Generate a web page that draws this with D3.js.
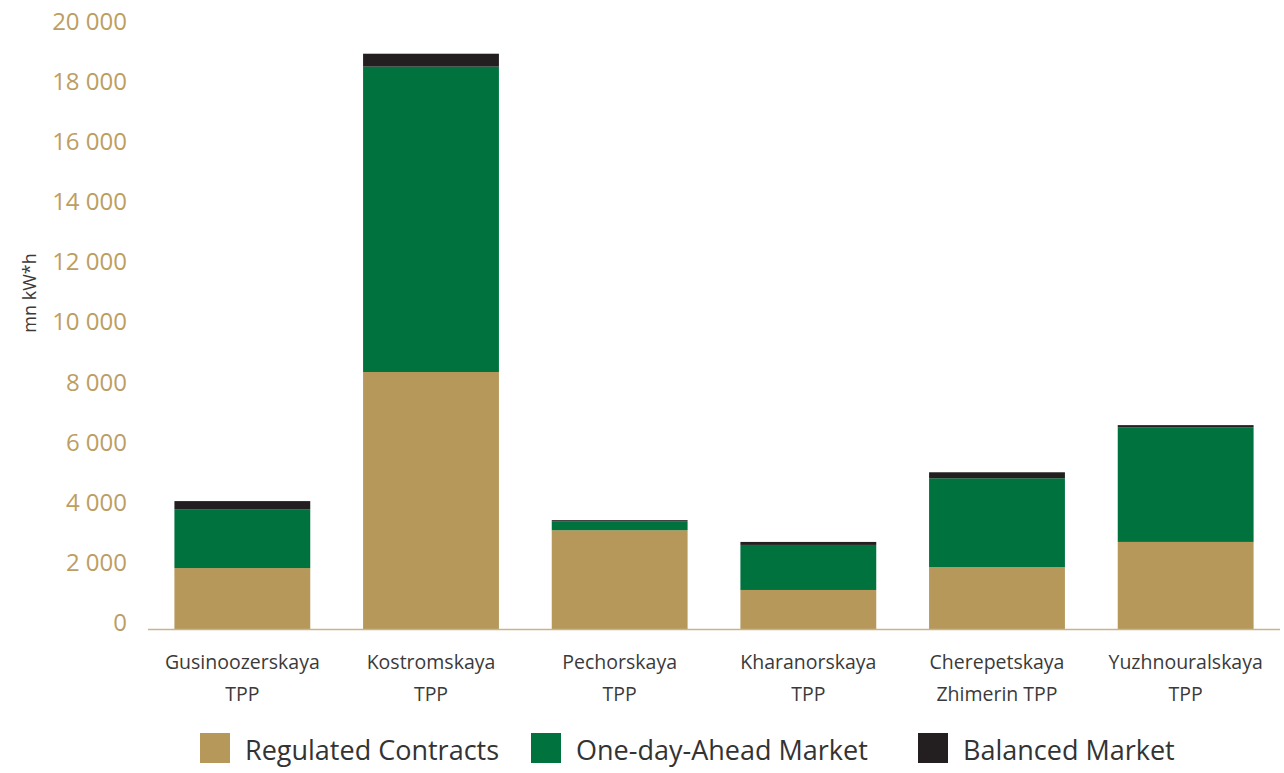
<!DOCTYPE html>
<html>
<head>
<meta charset="utf-8">
<script src="https://cdn.jsdelivr.net/npm/d3@7"></script>
<style>
  body { margin: 0; background: #fff; }
  text { font-family: "Open Sans", sans-serif; }
</style>
</head>
<body>
<div id="chart"></div>
<script>
// Data (mn kW*h)
const categories = [
    ["Gusinoozerskaya", "TPP"],
    ["Kostromskaya", "TPP"],
    ["Pechorskaya", "TPP"],
    ["Kharanorskaya", "TPP"],
    ["Cherepetskaya", "Zhimerin TPP"],
    ["Yuzhnouralskaya", "TPP"]
];
const regulated = [2030, 8560, 3290, 1300, 2060, 2900];
const oneDayAhead = [1960, 10170, 300, 1500, 2960, 3820];
const balanced = [270, 430, 35, 100, 200, 70];
const seriesNames = ["Regulated Contracts", "One-day-Ahead Market", "Balanced Market"];
const colors = ["#b5985a", "#00723e", "#231f20"];
const yTicks = [0, 2000, 4000, 6000, 8000, 10000, 12000, 14000, 16000, 18000, 20000];

const W = 1284, H = 773;

const svg = d3.select("#chart")
    .append("svg")
    .attr("width", W)
    .attr("height", H);

// build rows for the stack
const rows = categories.map((c, i) => ({
    key: i,
    r: regulated[i],
    o: oneDayAhead[i],
    b: balanced[i]
}));
const stack = d3.stack().keys(["r", "o", "b"])(rows);

const x = d3.scaleBand()
    .domain(rows.map(d => d.key))
    .range([148, 1280])
    .paddingInner(0.28)
    .paddingOuter(0.14);

const y = d3.scaleLinear()
    .domain([0, 20000])
    .range([629, 28.5]);

// y axis labels
const yAxis = d3.axisLeft(y)
    .tickValues(yTicks)
    .tickSize(0)
    .tickPadding(0)
    .tickFormat(d => d3.format(",")(d).replace(",", " "));

svg.append("g")
    .attr("class", "y axis")
    .attr("transform", "translate(127,0)")
    .call(yAxis)
    .call(g => g.select(".domain").remove())
    .selectAll("text")
    .attr("dy", "0.05em")
    .style("font-size", "24px")
    .style("fill", "#bc9e62");

// bars
svg.selectAll(".series")
    .data(stack)
    .enter().append("g")
    .attr("class", "series")
    .style("fill", (d, i) => colors[i])
    .selectAll("rect")
    .data(d => d)
    .enter().append("rect")
    .attr("x", d => x(d.data.key))
    .attr("width", x.bandwidth())
    .attr("y", d => y(d[1]))
    .attr("height", d => y(d[0]) - y(d[1]));

// baseline
svg.append("line")
    .attr("x1", 148)
    .attr("x2", 1280)
    .attr("y1", y(0) + 0.5)
    .attr("y2", y(0) + 0.5)
    .style("stroke", "#c9b48a")
    .style("stroke-width", 1.5);

// category labels
const cat = svg.selectAll(".cat")
    .data(categories)
    .enter().append("text")
    .attr("class", "cat")
    .attr("text-anchor", "middle")
    .style("font-size", "19.5px")
    .style("fill", "#3a3a3a");

cat.append("tspan")
    .attr("x", (d, i) => x(i) + x.bandwidth() / 2)
    .attr("y", 669)
    .text(d => d[0]);

cat.append("tspan")
    .attr("x", (d, i) => x(i) + x.bandwidth() / 2)
    .attr("y", 701)
    .text(d => d[1]);

// y axis title
svg.append("text")
    .attr("transform", "translate(36,293) rotate(-90)")
    .attr("text-anchor", "middle")
    .style("font-size", "18px")
    .style("fill", "#3a3a3a")
    .text("mn kW*h");

// legend
const legendX = [200, 531, 918];
const legend = svg.selectAll(".legend")
    .data(seriesNames)
    .enter().append("g")
    .attr("class", "legend")
    .attr("transform", (d, i) => "translate(" + legendX[i] + ",733)");

legend.append("rect")
    .attr("width", 30)
    .attr("height", 30)
    .style("fill", (d, i) => colors[i]);

legend.append("text")
    .attr("x", 45)
    .attr("y", 18)
    .attr("dy", "0.35em")
    .style("font-size", "27px")
    .style("fill", "#333")
    .text(d => d);
</script>
</body>
</html>
